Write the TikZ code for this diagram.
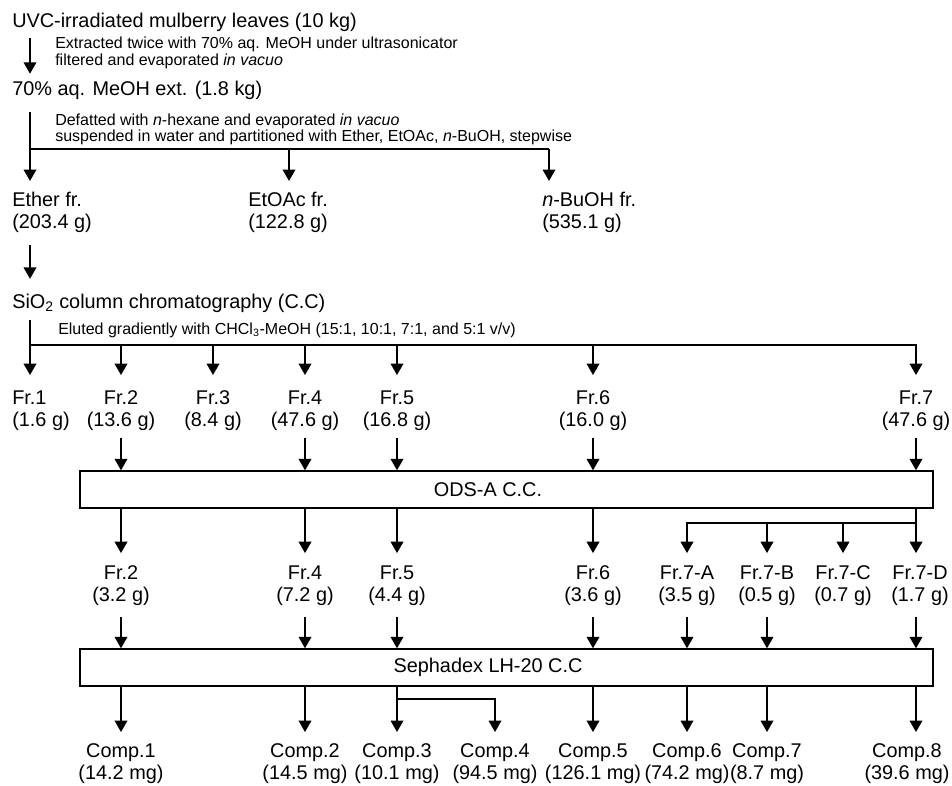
\documentclass[tikz,border=0pt]{standalone}
\usepackage{fontspec}
\setmainfont{Liberation Sans}
\usetikzlibrary{arrows.meta}
\newcommand\Lfont{\fontsize{14.9}{16.5}\selectfont}
\newcommand\Sfont{\fontsize{12}{13}\selectfont}
\begin{document}
\begin{tikzpicture}[x=0.75pt,y=-0.75pt,
  txt/.style={inner sep=0pt,font=\Lfont},
  stxt/.style={inner sep=0pt,font=\Sfont},
  lab/.style={inner sep=0pt,font=\Lfont,align=center,anchor=north},
  labl/.style={inner sep=0pt,font=\Lfont,align=left,anchor=north west},
  arr/.style={line width=1pt,-{Triangle[length=8.5pt,width=9.5pt]}},
  thinl/.style={line width=1pt},
  bus/.style={line width=1.9pt,line cap=rect},
  box/.style={draw,line width=1.1pt,minimum width=639.75pt,minimum height=27.75pt,inner sep=0pt}]
\useasboundingbox (0,0) rectangle (952,785);

% ---------- top part ----------
\node[txt,anchor=base west] (title) at (12,27) {UVC-irradiated mulberry leaves (10 kg)};
\node[stxt,anchor=base west] (ext1) at (55,48) {Extracted twice with 70\% aq. MeOH under ultrasonicator};
\node[stxt,anchor=base west] (ext2) at (55,65) {filtered and evaporated \textit{in vacuo}};
\node[txt,anchor=base west] (meoh) at (12,95) {70\% aq. MeOH ext. (1.8 kg)};
\node[stxt,anchor=base west] (def1) at (55,125) {Defatted with \textit{n}-hexane and evaporated \textit{in vacuo}};
\node[stxt,anchor=base west] (def2) at (55,141) {suspended in water and partitioned with Ether, EtOAc, \textit{n}-BuOH, stepwise};

\coordinate (c1) at (30,149);
\coordinate (c2) at (289,149);
\coordinate (c3) at (549,149);

\node[labl] (ether) at (12,191.6) {Ether fr.\\(203.4 g)};
\node[labl] (etoac) at (248,191.6) {EtOAc fr.\\(122.8 g)};
\node[labl] (buoh) at (542,191.6) {\textit{n}-BuOH fr.\\(535.1 g)};

\draw[arr,shorten <=5pt,shorten >=5pt] (title.south -| c1) -- (c1 |- meoh.north);
\draw[thinl,shorten <=9.6pt] (meoh.south -| c1) -- (c1) -- (c3);
\draw[arr,shorten >=8pt] (c1) -- (c1 |- ether.north);
\draw[arr,shorten >=8pt] (c2) -- (c2 |- etoac.north);
\draw[arr,shorten >=8pt] (c3) -- (c3 |- buoh.north);

% ---------- SiO2 ----------
\node[txt,anchor=base west] (sio) at (12,308) {SiO\textsubscript{2} column chromatography (C.C)};
\node[stxt,anchor=base west] (elu) at (58,334) {Eluted gradiently with CHCl\textsubscript{3}-MeOH (15:1, 10:1, 7:1, and 5:1 v/v)};
\draw[arr,shorten <=9.6pt,shorten >=10.9pt] (ether.south -| c1) -- (c1 |- sio.north);

\coordinate (d1) at (30,345);
\coordinate (d7) at (916,345);
\coordinate (x8) at (916,0);
\draw[thinl,shorten <=5.9pt] (sio.south -| d1) -- (d1);
\draw[bus] (d1) -- (d7);

\node[labl] (fr1) at (12,390.5) {Fr.1\\(1.6 g)};
\node[lab] (fr2) at (121,390.5) {Fr.2\\(13.6 g)};
\node[lab] (fr3) at (213,390.5) {Fr.3\\(8.4 g)};
\node[lab] (fr4) at (305,390.5) {Fr.4\\(47.6 g)};
\node[lab] (fr5) at (397,390.5) {Fr.5\\(16.8 g)};
\node[lab] (fr6) at (593,390.5) {Fr.6\\(16.0 g)};
\node[lab] (fr7) at (916,390.5) {Fr.7\\(47.6 g)};

\draw[arr,shorten >=11.6pt] (d1) -- (d1 |- fr1.north);
\foreach \n in {fr2,fr3,fr4,fr5,fr6,fr7}
  \draw[arr,shorten >=11.6pt] (\n.north |- d1) -- (\n.north);

% ---------- ODS ----------
\node[box] (ods) at (506.5,489.5) {};
\node[txt] (odst) at (488,489.5) {ODS-A C.C.};
\foreach \n in {fr2,fr4,fr5,fr6,fr7}
  \draw[arr,shorten <=5.1pt] (\n.south) -- (\n.south |- ods.north);

\node[lab] (g2) at (121,565.6) {Fr.2\\(3.2 g)};
\node[lab] (g4) at (305,565.6) {Fr.4\\(7.2 g)};
\node[lab] (g5) at (397,565.6) {Fr.5\\(4.4 g)};
\node[lab] (g6) at (593,565.6) {Fr.6\\(3.6 g)};
\node[lab] (g7a) at (687,565.6) {Fr.7-A\\(3.5 g)};
\node[lab] (g7b) at (767,565.6) {Fr.7-B\\(0.5 g)};
\node[lab] (g7c) at (843,565.6) {Fr.7-C\\(0.7 g)};
\node[lab] (g7d) at (920,565.6) {Fr.7-D\\(1.7 g)};

\foreach \n in {g2,g4,g5,g6}
  \draw[arr,shorten >=9.4pt] (\n.north |- ods.south) -- (\n.north);
\draw[arr,shorten >=9.4pt] (x8 |- ods.south) -- (x8 |- g7d.north);
\coordinate (br7) at (916,523);
\draw[bus] (br7) -- (br7 -| g7a.north);
\foreach \n in {g7a,g7b,g7c}
  \draw[arr,shorten >=9.4pt] (br7 -| \n.north) -- (\n.north);

% ---------- Sephadex ----------
\node[box] (seph) at (506.5,667.5) {};
\node[txt] (sepht) at (488,667.5) {Sephadex LH-20 C.C};
\foreach \n in {g2,g4,g5,g6,g7a,g7b}
  \draw[arr,shorten <=8pt] (\n.south) -- (\n.south |- seph.north);
\draw[arr,shorten <=8pt] (x8 |- g7d.south) -- (x8 |- seph.north);

\node[lab] (cp1) at (121,743.6) {Comp.1\\(14.2 mg)};
\node[lab] (cp2) at (305,743.6) {Comp.2\\(14.5 mg)};
\node[lab] (cp3) at (397,743.6) {Comp.3\\(10.1 mg)};
\node[lab] (cp4) at (495,743.6) {Comp.4\\(94.5 mg)};
\node[lab] (cp5) at (593,743.6) {Comp.5\\(126.1 mg)};
\node[lab] (cp6) at (687,743.6) {Comp.6\\(74.2 mg)};
\node[lab] (cp7) at (767,743.6) {Comp.7\\(8.7 mg)};
\node[lab] (cp8) at (907,743.6) {Comp.8\\(39.6 mg)};

\foreach \n in {cp1,cp2,cp3,cp5,cp6,cp7}
  \draw[arr,shorten >=8.7pt] (\n.north |- seph.south) -- (\n.north);
\draw[arr,shorten >=8.7pt] (x8 |- seph.south) -- (x8 |- cp8.north);
\coordinate (br3) at (397,699);
\draw[bus] (br3) -- (br3 -| cp4.north);
\draw[arr,shorten >=8.7pt] (br3 -| cp4.north) -- (cp4.north);
\end{tikzpicture}
\end{document}
